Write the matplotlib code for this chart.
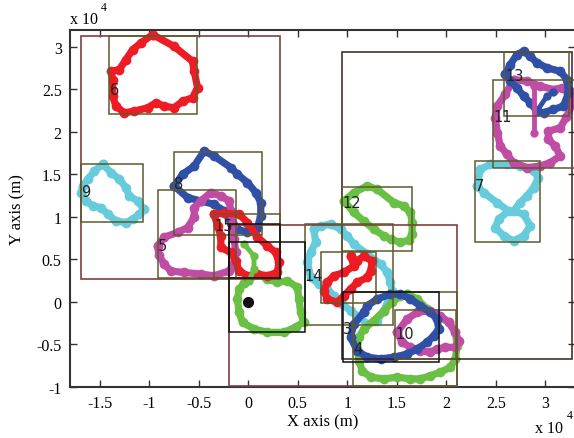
import numpy as np
import matplotlib
matplotlib.use("Agg")
import matplotlib.pyplot as plt
from matplotlib.patches import Rectangle
from matplotlib.ticker import FuncFormatter

# trajectory loops (x, y in units of 1e4 m)
loop6_x = [-0.966, -0.751, -0.563, -0.546, -0.512, -0.563, -0.663, -0.748, -0.849, -0.932, -1.016,
           -1.151, -1.252, -1.336, -1.369, -1.369, -1.386, -1.302, -1.235, -1.167, -1.084]
loop6_y = [3.146, 3.008, 2.832, 2.714, 2.520, 2.402, 2.362, 2.284, 2.303, 2.343, 2.284,
           2.244, 2.226, 2.303, 2.421, 2.617, 2.714, 2.734, 2.852, 2.969, 3.048]

loop9_x = [-1.470, -1.386, -1.302, -1.235, -1.202, -1.117, -1.056, -1.101, -1.167, -1.235, -1.336,
           -1.419, -1.487, -1.571, -1.638, -1.688, -1.671, -1.621, -1.554]
loop9_y = [1.618, 1.521, 1.442, 1.344, 1.246, 1.187, 1.089, 1.031, 0.972, 0.933, 0.952,
           1.031, 1.109, 1.128, 1.187, 1.286, 1.363, 1.442, 1.539]

loop8_x = [-0.748, -0.663, -0.546, -0.446, -0.345, -0.176, -0.109, -0.008, 0.076, 0.126, 0.126,
           0.093, -0.008, -0.109, -0.176, -0.244, -0.345, -0.479, -0.613]
loop8_y = [1.363, 1.501, 1.598, 1.774, 1.716, 1.579, 1.501, 1.403, 1.286, 1.168, 1.011,
           0.874, 0.816, 0.854, 0.933, 1.069, 1.148, 1.187, 1.226]

loop5_x = [-0.915, -0.849, -0.714, -0.613, -0.546, -0.546, -0.479, -0.378, -0.277, -0.194, -0.176,
           -0.156, -0.143, -0.126, -0.156, -0.197, -0.345, -0.479, -0.647, -0.781, -0.849, -0.902]
loop5_y = [0.658, 0.760, 0.816, 0.874, 0.995, 1.109, 1.187, 1.286, 1.246, 1.187, 1.069,
           0.913, 0.737, 0.580, 0.423, 0.361, 0.306, 0.326, 0.345, 0.361, 0.443, 0.549]

loop15_x = [-0.345, -0.244, -0.093, -0.008, 0.093, 0.194, 0.277, 0.310, 0.294, 0.194, 0.093,
            -0.008, -0.093, -0.126, -0.176, -0.277, -0.277, -0.310]
loop15_y = [1.031, 1.042, 1.031, 0.933, 0.760, 0.658, 0.580, 0.463, 0.345, 0.306, 0.326,
            0.306, 0.364, 0.482, 0.580, 0.639, 0.776, 0.893]

loop0_x = [-0.042, 0.093, 0.194, 0.294, 0.395, 0.496, 0.512, 0.529, 0.559, 0.479, 0.361,
           0.194, 0.058, -0.058, -0.093, -0.109, -0.093]
loop0_y = [0.220, 0.326, 0.267, 0.228, 0.247, 0.169, 0.032, -0.125, -0.239, -0.297, -0.360,
           -0.360, -0.321, -0.242, -0.125, 0.032, 0.149]
spur0_x = [0.008, 0.058, 0.058, -0.042]
spur0_y = [0.247, 0.384, 0.541, 0.678]

loop12_x = [0.966, 1.067, 1.202, 1.302, 1.470, 1.571, 1.638, 1.655, 1.655, 1.621, 1.537,
            1.437, 1.369, 1.268, 1.167, 1.067]
loop12_y = [1.187, 1.286, 1.363, 1.324, 1.168, 1.128, 1.051, 0.933, 0.796, 0.725, 0.698,
            0.737, 0.776, 0.854, 0.948, 1.051]

loop7_x = [2.311, 2.344, 2.445, 2.613, 2.747, 2.881, 2.931, 2.881, 2.815, 2.747, 2.679,
           2.780, 2.848, 2.780, 2.679, 2.579, 2.495, 2.528, 2.629, 2.512, 2.377]
loop7_y = [1.363, 1.559, 1.618, 1.618, 1.598, 1.539, 1.462, 1.344, 1.246, 1.168, 1.069,
           1.031, 0.893, 0.776, 0.717, 0.776, 0.874, 0.972, 1.069, 1.168, 1.286]

loop13_x = [2.596, 2.646, 2.714, 2.780, 2.848, 2.915, 3.016, 3.150, 3.218, 3.234, 3.183,
            3.079, 2.982, 2.915, 2.848, 2.780, 2.714, 2.646]
loop13_y = [2.676, 2.793, 2.911, 2.949, 2.891, 2.813, 2.754, 2.714, 2.617, 2.461, 2.303,
            2.264, 2.226, 2.244, 2.343, 2.421, 2.519, 2.597]
spur13_x = [2.915, 3.016, 3.079]
spur13_y = [2.244, 2.421, 2.464]

loop11_x = [2.679, 2.815, 2.949, 3.083, 3.167, 3.251, 3.271, 3.211, 3.150, 3.029, 3.032,
            3.100, 3.150, 3.049, 2.949, 2.815, 2.679, 2.613, 2.545, 2.515, 2.495, 2.512, 2.596]
loop11_y = [2.617, 2.597, 2.538, 2.499, 2.519, 2.476, 2.323, 2.170, 2.049, 2.006, 1.912,
            1.833, 1.716, 1.638, 1.598, 1.579, 1.638, 1.736, 1.833, 1.991, 2.167, 2.303, 2.441]
spur11_x = [2.881, 2.881]
spur11_y = [2.538, 1.991]

loop14_x = [0.663, 0.731, 0.832, 0.932, 1.000, 1.067, 1.202, 1.336, 1.403, 1.436, 1.454,
            1.419, 1.369, 1.302, 1.202, 1.101, 1.033, 0.950, 0.865, 0.798, 0.711, 0.630,
            0.597, 0.630, 0.680]
loop14_y = [0.854, 0.893, 0.913, 0.854, 0.776, 0.678, 0.561, 0.443, 0.345, 0.228, 0.126,
            0.032, -0.106, -0.223, -0.262, -0.165, -0.106, -0.027, 0.071, 0.149, 0.208, 0.290,
            0.463, 0.580, 0.702]

loopr_x = [1.033, 1.067, 0.966, 0.865, 0.798, 0.764, 0.798, 0.899, 0.966, 1.033, 1.101,
           1.202, 1.235, 1.252, 1.167, 1.094]
loopr_y = [0.541, 0.423, 0.345, 0.306, 0.228, 0.129, 0.032, -0.007, 0.071, 0.149, 0.228,
           0.287, 0.361, 0.478, 0.537, 0.478]

loop4_x = [1.605, 1.706, 1.806, 1.907, 2.024, 2.092, 2.108, 2.092, 2.041, 1.940, 1.840,
           1.739, 1.638, 1.504, 1.369, 1.235, 1.151, 1.117, 1.101, 1.117, 1.167, 1.268,
           1.369, 1.454, 1.537]
loop4_y = [0.090, 0.032, -0.086, -0.165, -0.242, -0.360, -0.517, -0.673, -0.771, -0.830, -0.870,
           -0.908, -0.908, -0.888, -0.908, -0.888, -0.811, -0.693, -0.556, -0.418, -0.321, -0.223,
           -0.106, -0.007, 0.071]

loop10_x = [1.504, 1.605, 1.706, 1.840, 1.940, 2.024, 2.092, 2.125, 2.092, 1.991, 1.907,
            1.840, 1.739, 1.638, 1.554]
loop10_y = [-0.360, -0.203, -0.125, -0.106, -0.165, -0.242, -0.360, -0.458, -0.536, -0.536, -0.556,
            -0.595, -0.576, -0.536, -0.477]

loop3_x = [1.167, 1.067, 1.033, 1.101, 1.202, 1.336, 1.470, 1.605, 1.706, 1.806, 1.873,
           1.923, 1.907, 1.840, 1.739, 1.638, 1.537, 1.436, 1.302, 1.202]
loop3_y = [-0.125, -0.262, -0.418, -0.576, -0.653, -0.673, -0.653, -0.615, -0.556, -0.477, -0.400,
           -0.321, -0.203, -0.125, -0.047, 0.032, 0.090, 0.090, 0.032, -0.047]

# boxes: (x0, y0, x1, y1)
big_boxes = [(-1.69, 0.267, 0.318, 3.13), (-0.19, -0.99, 2.11, 0.90)]
right_box = (0.95, -0.67, 3.27, 2.94)
olive_boxes = [(-1.403, 2.214, -0.516, 3.130), (-1.688, 0.940, -1.060, 1.626),
               (-0.754, 0.784, 0.143, 1.767), (-0.915, 0.278, -0.126, 1.313),
               (-0.345, 0.275, 0.318, 1.039), (0.570, -0.270, 1.460, 0.913),
               (0.731, -0.019, 1.285, 0.580), (0.950, 0.599, 1.655, 1.356),
               (1.056, -0.987, 2.109, 0.114), (1.480, -0.673, 2.102, -0.094),
               (2.286, 0.702, 2.942, 1.657), (2.586, 2.186, 3.238, 2.942),
               (2.472, 1.579, 3.31, 2.613)]
black_boxes = [(-0.194, -0.360, 0.570, 0.698), (0.956, -0.705, 1.923, 0.110),
               (-0.194, 0.280, 0.318, 0.913)]

labels = ['6', '9', '8', '5', '15', '14', '12', '3', '4', '10', '7', '13', '11']
label_x = [-1.395, -1.688, -0.75, -0.912, -0.338, 0.57, 0.952, 0.956, 1.056, 1.49, 2.29, 2.596, 2.475]
label_y = [2.50, 1.30, 1.39, 0.666, 0.90, 0.31, 1.17, -0.32, -0.55, -0.37, 1.37, 2.67, 2.18]

red = '#ed1c24'
blue = '#3050a8'
cyan = '#66cbdb'
magenta = '#c04ca6'
green = '#6abf45'

plt.rcParams['axes.unicode_minus'] = False
fig = plt.figure(figsize=(5.74, 4.39), dpi=100)
ax = fig.add_axes([0.122, 0.1169, 0.8798, 0.8125])

loops = [(loop6_x, loop6_y, red), (loop9_x, loop9_y, cyan), (loop8_x, loop8_y, blue),
         (loop5_x, loop5_y, magenta), (loop0_x, loop0_y, green), (loop12_x, loop12_y, green),
         (loop7_x, loop7_y, cyan), (loop11_x, loop11_y, magenta), (loop14_x, loop14_y, cyan),
         (loop4_x, loop4_y, green), (loop10_x, loop10_y, magenta), (loop3_x, loop3_y, blue),
         (loop13_x, loop13_y, blue), (loop15_x, loop15_y, red), (loopr_x, loopr_y, red)]
for lx, ly, c in loops:
    ax.plot(lx + lx[:1], ly + ly[:1], '-o', color=c, lw=5.2, ms=7, mew=0,
            solid_capstyle='round', solid_joinstyle='round')
for sx, sy, c in [(spur0_x, spur0_y, green), (spur13_x, spur13_y, blue), (spur11_x, spur11_y, magenta)]:
    ax.plot(sx, sy, '-o', color=c, lw=3.5, ms=6, mew=0, solid_capstyle='round')

# start point
ax.plot([0], [0], 'o', color='#111111', ms=7, zorder=5)

for (x0, y0, x1, y1) in big_boxes:
    ax.add_patch(Rectangle((x0, y0), x1 - x0, y1 - y0, fill=False, ec='#7f3f3f', lw=1.2, zorder=4))
x0, y0, x1, y1 = right_box
ax.add_patch(Rectangle((x0, y0), x1 - x0, y1 - y0, fill=False, ec='#3a1d1d', lw=1.1, zorder=4))
for (x0, y0, x1, y1) in olive_boxes:
    ax.add_patch(Rectangle((x0, y0), x1 - x0, y1 - y0, fill=False, ec='#5f5a2c', lw=1.1, zorder=4))
for (x0, y0, x1, y1) in black_boxes:
    ax.add_patch(Rectangle((x0, y0), x1 - x0, y1 - y0, fill=False, ec='#111111', lw=1.1, zorder=4))

for t, tx, ty in zip(labels, label_x, label_y):
    ax.text(tx, ty, t, fontsize=10.5, color='#222222', ha='left', va='center',
            family='DejaVu Sans', zorder=6)

ax.set_xlim(-1.8, 3.3)
ax.set_ylim(-1, 3.2)
ax.set_xticks([-1.5, -1, -0.5, 0, 0.5, 1, 1.5, 2, 2.5, 3])
ax.set_yticks([-1, -0.5, 0, 0.5, 1, 1.5, 2, 2.5, 3])
fmt = FuncFormatter(lambda v, p: '%g' % v)
ax.xaxis.set_major_formatter(fmt)
ax.yaxis.set_major_formatter(fmt)
ax.tick_params(direction='in', length=5, width=1, top=True, right=True, color='#333333',
               labelsize=11.5, pad=6)
for lab in ax.get_xticklabels() + ax.get_yticklabels():
    lab.set_family('Liberation Serif')
for sp in ax.spines.values():
    sp.set_linewidth(1.5)
    sp.set_color('#333333')

ax.set_xlabel('X axis (m)', family='Liberation Serif', fontsize=12, labelpad=2)
ax.set_ylabel('Y axis (m)', family='Liberation Serif', fontsize=12, labelpad=8)

fig.text(0.122, 0.945, 'x 10', family='Liberation Serif', fontsize=11.5, ha='left', va='baseline')
fig.text(0.176, 0.975, '4', family='Liberation Serif', fontsize=8.5, ha='left', va='baseline')
fig.text(0.932, 0.013, 'x 10', family='Liberation Serif', fontsize=11.5, ha='left', va='baseline')
fig.text(0.987, 0.045, '4', family='Liberation Serif', fontsize=8.5, ha='left', va='baseline')

fig.savefig('out.png', dpi=100)
